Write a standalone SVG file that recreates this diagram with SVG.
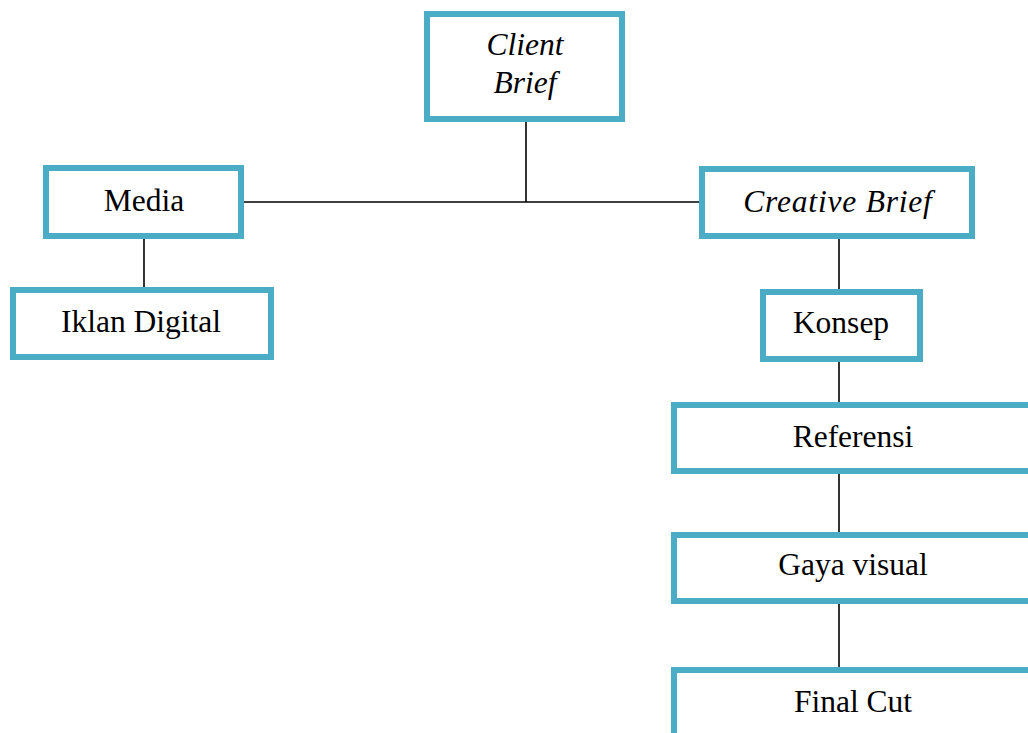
<svg xmlns="http://www.w3.org/2000/svg" width="1028" height="733" viewBox="0 0 1028 733">
<style>
.box{fill:#ffffff;stroke:#4BACC6;stroke-width:6}
.t{font-family:'Liberation Serif','Times New Roman',serif;font-size:31.5px;fill:#000;text-anchor:middle}
.i{font-style:italic}
.c{stroke:#000;stroke-width:1.6;fill:none}
</style>
<rect width="1028" height="733" fill="#ffffff"/>
<g id="connectors">
<line class="c" x1="526" y1="122" x2="526" y2="202"/>
<line class="c" x1="243" y1="202" x2="701" y2="202"/>
<line class="c" x1="144" y1="239" x2="144" y2="289"/>
<line class="c" x1="839" y1="239" x2="839" y2="291"/>
<line class="c" x1="839" y1="362" x2="839" y2="404"/>
<line class="c" x1="839" y1="474" x2="839" y2="534"/>
<line class="c" x1="839" y1="604" x2="839" y2="669"/>
</g>
<g id="client-brief">
<rect class="box" x="427" y="14" width="195" height="105"/>
<text class="t i" x="525" y="55">Client</text>
<text class="t i" x="525" y="93">Brief</text>
</g>
<g id="media">
<rect class="box" x="46" y="168" width="195" height="68"/>
<text class="t" x="144" y="211">Media</text>
</g>
<g id="iklan-digital">
<rect class="box" x="13" y="290" width="258" height="67"/>
<text class="t" x="141" y="332">Iklan Digital</text>
</g>
<g id="creative-brief">
<rect class="box" x="702" y="169" width="270" height="67"/>
<text class="t i" x="838" y="212" letter-spacing="0.8">Creative Brief</text>
</g>
<g id="konsep">
<rect class="box" x="763" y="292" width="157" height="67"/>
<text class="t" x="841" y="333">Konsep</text>
</g>
<g id="referensi">
<rect class="box" x="674" y="405" width="360" height="66"/>
<text class="t" x="853" y="447">Referensi</text>
</g>
<g id="gaya-visual">
<rect class="box" x="674" y="535" width="360" height="66"/>
<text class="t" x="853" y="575">Gaya visual</text>
</g>
<g id="final-cut">
<rect class="box" x="674" y="670" width="360" height="80"/>
<text class="t" x="853" y="712">Final Cut</text>
</g>
</svg>
